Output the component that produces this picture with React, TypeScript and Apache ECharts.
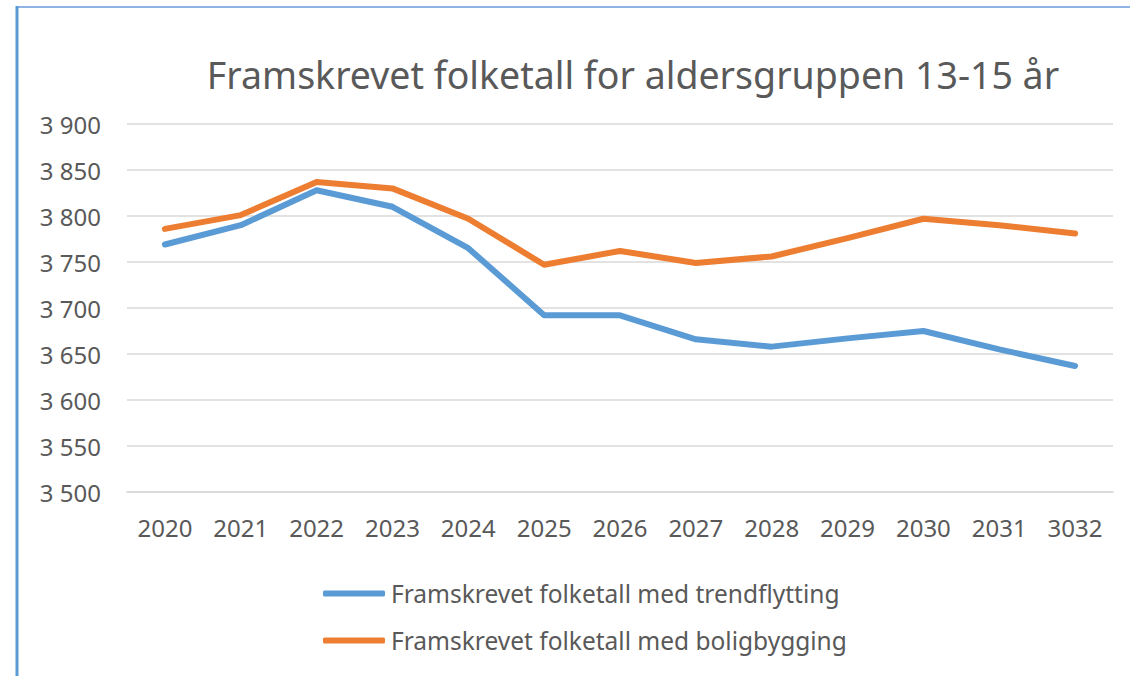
import React, { useEffect, useRef } from "react";
import * as echarts from "echarts";

const titleText = "Framskrevet folketall for aldersgruppen 13-15 år";
const years = ["2020", "2021", "2022", "2023", "2024", "2025", "2026", "2027", "2028", "2029", "2030", "2031", "3032"];
const trendName = "Framskrevet folketall med trendflytting";
const boligName = "Framskrevet folketall med boligbygging";
const trendValues = [3769, 3790, 3828, 3810, 3765, 3692, 3692, 3666, 3658, 3667, 3675, 3655, 3637];
const boligValues = [3786, 3801, 3837, 3830, 3797, 3747, 3762, 3749, 3756, 3776, 3797, 3790, 3781];
const yMin = 3500;
const yMax = 3900;
const yStep = 50;

const fmt = (v: number) => {
  const s = String(Math.round(v));
  return s.replace(/\B(?=(\d{3})+(?!\d))/g, " ");
};

export default function App() {
  const ref = useRef<HTMLDivElement>(null);
  useEffect(() => {
    if (!ref.current) return;
    const chart = echarts.init(ref.current, null, { renderer: "svg" });
    const font = "'Noto Sans', sans-serif";
    chart.setOption({
      animation: false,
      backgroundColor: "#ffffff",
      title: {
        text: titleText,
        left: 628,
        top: 50,
        textAlign: "center",
        textStyle: { fontFamily: font, fontSize: 37.5, fontWeight: "normal", color: "#595959" },
      },
      grid: { left: 127, right: 17, top: 124, bottom: 184, containLabel: false },
      xAxis: {
        type: "category",
        data: years,
        boundaryGap: true,
        axisLine: { show: true, lineStyle: { color: "#d9d9d9", width: 1.5 } },
        axisTick: { show: false },
        axisLabel: { fontFamily: font, fontSize: 24, color: "#595959", margin: 23 },
      },
      yAxis: {
        type: "value",
        min: yMin,
        max: yMax,
        interval: yStep,
        axisLine: { show: false },
        axisTick: { show: false },
        splitLine: { lineStyle: { color: "#d9d9d9", width: 1.5 } },
        axisLabel: {
          fontFamily: font,
          fontSize: 24,
          color: "#595959",
          margin: 26,
          formatter: (v: number) => fmt(v),
        },
      },
      legend: {
        orient: "vertical",
        left: 318,
        top: 576,
        itemGap: 22,
        itemWidth: 62,
        itemHeight: 6,
        icon: "roundRect",
        textStyle: { fontFamily: font, fontSize: 24.5, color: "#595959", padding: [0, 0, 0, 1] },
        data: [trendName, boligName],
      },
      series: [
        {
          name: trendName,
          type: "line",
          data: trendValues,
          symbol: "none",
          lineStyle: { color: "#5b9bd5", width: 6, cap: "round", join: "round" },
          itemStyle: { color: "#5b9bd5" },
        },
        {
          name: boligName,
          type: "line",
          data: boligValues,
          symbol: "none",
          lineStyle: { color: "#ed7d31", width: 6, cap: "round", join: "round" },
          itemStyle: { color: "#ed7d31" },
        },
      ],
      graphic: [
        { type: "line", shape: { x1: 17, y1: 7, x2: 1130, y2: 7 }, style: { stroke: "#8fb4e3", lineWidth: 2 } },
        { type: "line", shape: { x1: 17, y1: 6, x2: 17, y2: 676 }, style: { stroke: "#5b9bd5", lineWidth: 3 } },
      ],
    });
    return () => chart.dispose();
  }, []);
  return (
    <div
      ref={ref}
      style={{ position: "absolute", left: 0, top: 0, width: 1130, height: 676 }}
    />
  );
}
